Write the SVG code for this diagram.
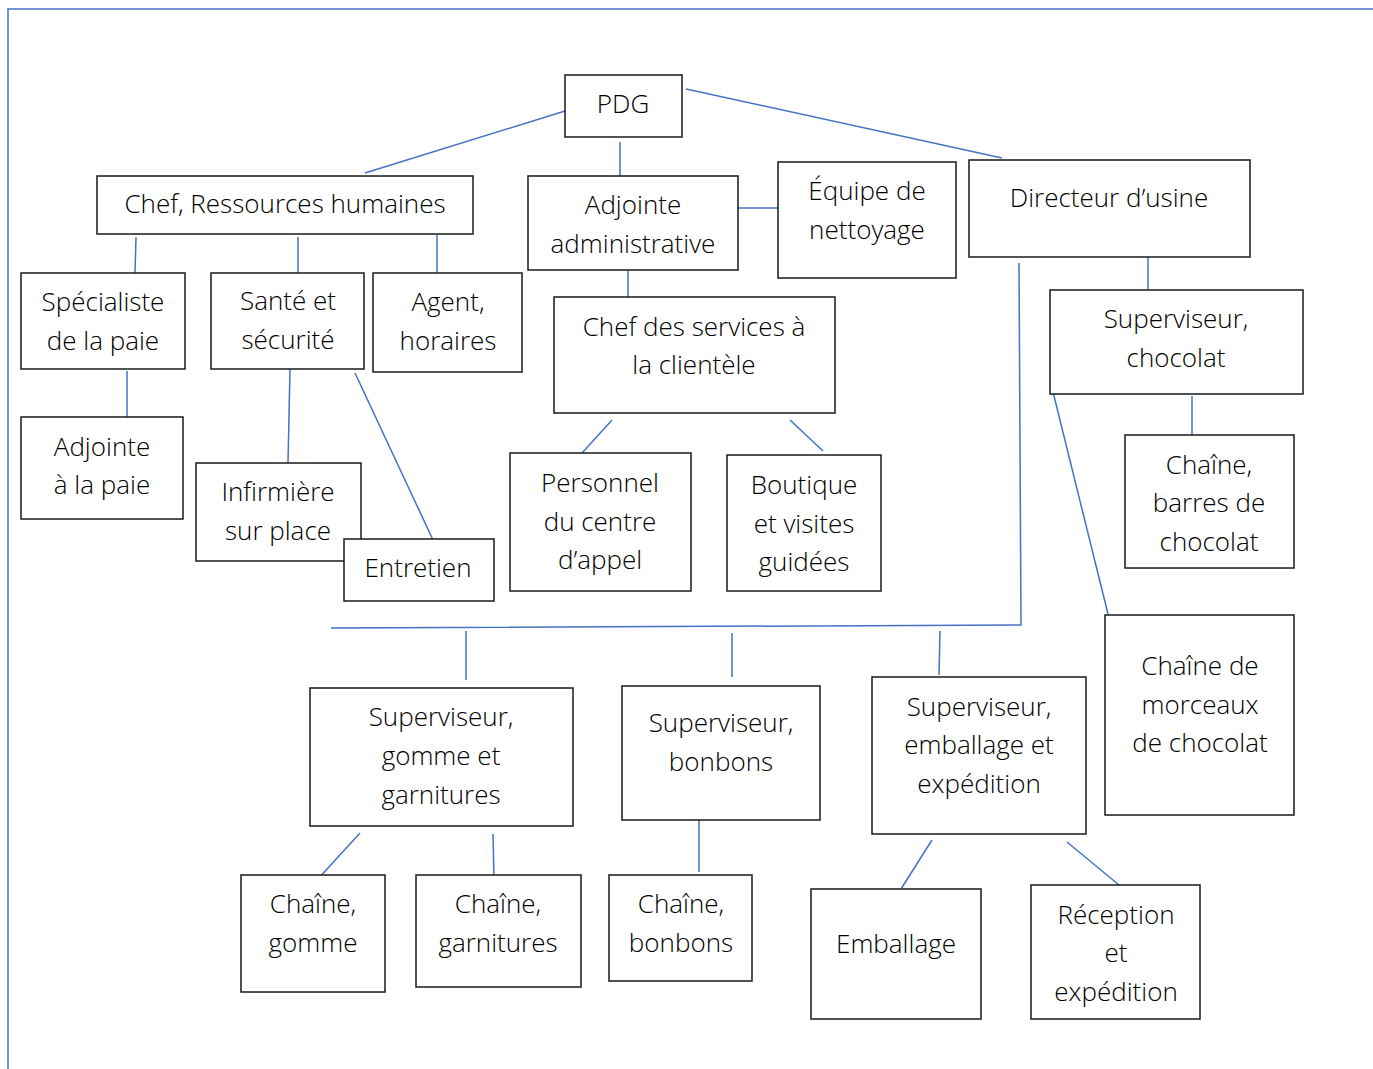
<svg xmlns="http://www.w3.org/2000/svg" width="1373" height="1069" viewBox="0 0 1373 1069">
<style>
.b{fill:#fff;stroke:#1a1a1a;stroke-width:1.5}
.t{font-family:"Open Sans","Liberation Sans",sans-serif;font-weight:300;font-size:26px;fill:#000;text-anchor:middle}
.c line,.c polyline{stroke:#4472C4;stroke-width:1.5;fill:none}
</style>
<rect width="1373" height="1069" fill="#fff"/>
<g class="c" id="frame"><polyline points="8,1069 8,9 1373,9"/></g>
<g class="c" id="connectors">
<line x1="565" y1="111" x2="365" y2="173"/>
<line x1="686" y1="89" x2="1002" y2="158"/>
<line x1="620" y1="142" x2="620" y2="176"/>
<line x1="136" y1="237" x2="135" y2="273"/>
<line x1="298" y1="237" x2="298" y2="273"/>
<line x1="437" y1="235" x2="437" y2="273"/>
<line x1="738" y1="208" x2="778" y2="208"/>
<line x1="628" y1="270" x2="628" y2="300"/>
<line x1="127" y1="371" x2="127" y2="417"/>
<line x1="290" y1="369" x2="288" y2="463"/>
<line x1="355" y1="373" x2="433" y2="540"/>
<line x1="612" y1="420" x2="582" y2="453"/>
<line x1="790" y1="420" x2="823" y2="451"/>
<line x1="1148" y1="257" x2="1148" y2="290"/>
<line x1="1192" y1="396" x2="1192" y2="435"/>
<line x1="1053" y1="392" x2="1108" y2="614"/>
<polyline points="1019,263 1021,625 331,628"/>
<line x1="466" y1="631" x2="466" y2="680"/>
<line x1="732" y1="633" x2="732" y2="677"/>
<line x1="940" y1="631" x2="939" y2="675"/>
<line x1="360" y1="833" x2="317" y2="880"/>
<line x1="493" y1="834" x2="494" y2="880"/>
<line x1="699" y1="820" x2="699" y2="872"/>
<line x1="932" y1="840" x2="901" y2="889"/>
<line x1="1067" y1="842" x2="1119" y2="885"/>
</g>
<g id="pdg"><rect class="b" x="565" y="75" width="117" height="62"/><text class="t" x="623" y="113">PDG</text></g>
<g id="rh"><rect class="b" x="97" y="176" width="376" height="58"/><text class="t" x="285" y="213">Chef, Ressources humaines</text></g>
<g id="adjadm"><rect class="b" x="528" y="176" width="210" height="94"/><text class="t" x="633" y="214">Adjointe</text><text class="t" x="633" y="253">administrative</text></g>
<g id="equipe"><rect class="b" x="778" y="162" width="178" height="116"/><text class="t" x="867" y="200">Équipe de</text><text class="t" x="867" y="239">nettoyage</text></g>
<g id="directeur"><rect class="b" x="969" y="160" width="281" height="97"/><text class="t" x="1109" y="207">Directeur d’usine</text></g>
<g id="specialiste"><rect class="b" x="21" y="273" width="164" height="96"/><text class="t" x="103" y="311">Spécialiste</text><text class="t" x="103" y="350">de la paie</text></g>
<g id="sante"><rect class="b" x="211" y="273" width="153" height="96"/><text class="t" x="288" y="310">Santé et</text><text class="t" x="288" y="349">sécurité</text></g>
<g id="agent"><rect class="b" x="373" y="273" width="149" height="99"/><text class="t" x="448" y="311">Agent,</text><text class="t" x="448" y="350">horaires</text></g>
<g id="chefservices"><rect class="b" x="554" y="297" width="281" height="116"/><text class="t" x="694" y="336">Chef des services à</text><text class="t" x="694" y="374">la clientèle</text></g>
<g id="supchoc"><rect class="b" x="1050" y="290" width="253" height="104"/><text class="t" x="1176" y="328">Superviseur,</text><text class="t" x="1176" y="367">chocolat</text></g>
<g id="adjpaie"><rect class="b" x="21" y="417" width="162" height="102"/><text class="t" x="102" y="456">Adjointe</text><text class="t" x="102" y="494">à la paie</text></g>
<g id="infirmiere"><rect class="b" x="196" y="463" width="165" height="98"/><text class="t" x="278" y="501">Infirmière</text><text class="t" x="278" y="540">sur place</text></g>
<g id="entretien"><rect class="b" x="344" y="539" width="150" height="62"/><text class="t" x="418" y="577">Entretien</text></g>
<g id="personnel"><rect class="b" x="510" y="453" width="181" height="138"/><text class="t" x="600" y="492">Personnel</text><text class="t" x="600" y="531">du centre</text><text class="t" x="600" y="569">d’appel</text></g>
<g id="boutique"><rect class="b" x="727" y="455" width="154" height="136"/><text class="t" x="804" y="494">Boutique</text><text class="t" x="804" y="533">et visites</text><text class="t" x="804" y="571">guidées</text></g>
<g id="barres"><rect class="b" x="1125" y="435" width="169" height="133"/><text class="t" x="1209" y="474">Chaîne,</text><text class="t" x="1209" y="512">barres de</text><text class="t" x="1209" y="551">chocolat</text></g>
<g id="morceaux"><rect class="b" x="1105" y="615" width="189" height="200"/><text class="t" x="1200" y="675">Chaîne de</text><text class="t" x="1200" y="714">morceaux</text><text class="t" x="1200" y="752">de chocolat</text></g>
<g id="supgomme"><rect class="b" x="310" y="688" width="263" height="138"/><text class="t" x="441" y="726">Superviseur,</text><text class="t" x="441" y="765">gomme et</text><text class="t" x="441" y="804">garnitures</text></g>
<g id="supbonbons"><rect class="b" x="622" y="686" width="198" height="134"/><text class="t" x="721" y="732">Superviseur,</text><text class="t" x="721" y="771">bonbons</text></g>
<g id="supemb"><rect class="b" x="872" y="677" width="214" height="157"/><text class="t" x="979" y="716">Superviseur,</text><text class="t" x="979" y="754">emballage et</text><text class="t" x="979" y="793">expédition</text></g>
<g id="gomme"><rect class="b" x="241" y="875" width="144" height="117"/><text class="t" x="313" y="913">Chaîne,</text><text class="t" x="313" y="952">gomme</text></g>
<g id="garnitures"><rect class="b" x="416" y="875" width="165" height="112"/><text class="t" x="498" y="913">Chaîne,</text><text class="t" x="498" y="952">garnitures</text></g>
<g id="bonbons"><rect class="b" x="609" y="875" width="143" height="106"/><text class="t" x="681" y="913">Chaîne,</text><text class="t" x="681" y="952">bonbons</text></g>
<g id="emballage"><rect class="b" x="811" y="889" width="170" height="130"/><text class="t" x="896" y="953">Emballage</text></g>
<g id="reception"><rect class="b" x="1031" y="885" width="169" height="134"/><text class="t" x="1116" y="924">Réception</text><text class="t" x="1116" y="962">et</text><text class="t" x="1116" y="1001">expédition</text></g>
</svg>
